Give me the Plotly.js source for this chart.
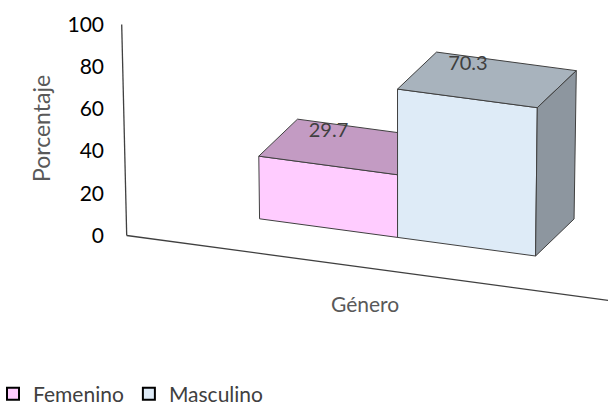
<!DOCTYPE html>
<html>
<head>
<meta charset="utf-8">
<script src="https://cdn.plot.ly/plotly-3.0.1.min.js"></script>
<style>
  html, body { margin: 0; padding: 0; background: #ffffff; }
  #chart { width: 608px; height: 405px; }
</style>
</head>
<body>
<div id="chart"></div>
<script>
// Survey share by gender (%)
const categories = ['Femenino', 'Masculino'];
const values = [29.7, 70.3];
const tickVals = [0, 20, 40, 60, 80, 100];
const yMax = 100;

// Face colours per series: front, top, right side
const frontColors = ['#FFCCFF', '#DEEBF7'];
const topColors = ['#C39BC3', '#A8B3BD'];
const sideColors = ['#A77FA7', '#8D969F'];
const edgeColor = '#404040';

// ---- simple oblique projection of the 3D box scene ----
const W_PX = 608, H_PX = 405;
const LEFT = 105;                       // left margin reserved for tick labels
const PX_PER_UNIT = 2.11;               // vertical pixels per percentage point
const ORIGIN = { x: 126.7, y: 235.5 };  // wall / floor corner
const U_STEP = { x: 138, y: 18.6 };     // one category along the floor
const W_STEP = { x: 38.5, y: -37 };     // one unit of depth
const BAR_START = 0.734;                // first bar offset along the floor
const DEPTH_GAP = 0.82;                 // bars sit this far behind the floor edge
const LEAN = 1.83e-4, LEAN_CX = 400;    // slight perspective lean of verticals

// (u: along categories, w: depth, v: value) -> [x pixel, y in value units]
function project(u, w, v) {
  let px = ORIGIN.x + u * U_STEP.x + w * W_STEP.x;
  const py = ORIGIN.y + u * U_STEP.y + w * W_STEP.y - v * PX_PER_UNIT;
  px += (px - LEAN_CX) * v * LEAN;
  return [px, (ORIGIN.y - py) / PX_PER_UNIT];
}

function polygon(points, fill) {
  const xs = points.map(p => p[0]);
  const ys = points.map(p => p[1]);
  xs.push(xs[0]); ys.push(ys[0]);
  return {
    type: 'scatter', mode: 'lines', x: xs, y: ys,
    fill: 'toself', fillcolor: fill,
    line: { color: edgeColor, width: 1 },
    hoverinfo: 'skip', showlegend: false
  };
}

const traces = [];

// floor front edge (category axis) and the value axis on the wall
const floorEnd = (W_PX + 20 - ORIGIN.x) / U_STEP.x;
const f0 = project(0, 0, 0), f1 = project(floorEnd, 0, 0);
traces.push({ type: 'scatter', mode: 'lines', x: [f0[0], f1[0]], y: [f0[1], f1[1]],
  line: { color: '#404040', width: 1.3 }, hoverinfo: 'skip', showlegend: false });
const a0 = project(0, 0, 0), a1 = project(0, 0, yMax);
traces.push({ type: 'scatter', mode: 'lines', x: [a0[0], a1[0]], y: [a0[1], a1[1]],
  line: { color: '#404040', width: 1.3 }, hoverinfo: 'skip', showlegend: false });

// boxes, drawn left to right so later boxes overlap earlier ones
const labelX = [], labelY = [], labelText = [];
values.forEach((val, i) => {
  const u0 = BAR_START + i, u1 = u0 + 1;
  const w0 = DEPTH_GAP, w1 = DEPTH_GAP + 1;
  // front
  traces.push(polygon([project(u0, w0, 0), project(u1, w0, 0), project(u1, w0, val), project(u0, w0, val)], frontColors[i]));
  // top
  traces.push(polygon([project(u0, w0, val), project(u1, w0, val), project(u1, w1, val), project(u0, w1, val)], topColors[i]));
  // right side
  traces.push(polygon([project(u1, w0, 0), project(u1, w1, 0), project(u1, w1, val), project(u1, w0, val)], sideColors[i]));
  // value label just above the middle of the top face
  const c = project(u0 + 0.5, w0 + 0.5, val);
  labelX.push(c[0] - 19);
  labelY.push(c[1] + 15 / PX_PER_UNIT);
  labelText.push(val.toFixed(1));
});

traces.push({
  type: 'scatter', mode: 'text', x: labelX, y: labelY, text: labelText,
  textposition: 'middle center',
  textfont: { family: 'Lato, sans-serif', size: 20, color: '#404040' },
  hoverinfo: 'skip', showlegend: false, cliponaxis: false
});

// legend entries
categories.forEach((name, i) => {
  traces.push({
    type: 'scatter', mode: 'markers', x: [null], y: [null], name: name,
    marker: { symbol: 'square', size: 12, color: frontColors[i], line: { color: '#000000', width: 2 } }
  });
});

const plotW = W_PX - LEFT;
const paperX = px => (px - LEFT) / plotW;
const paperY = py => (H_PX - py) / H_PX;

const layout = {
  width: W_PX, height: H_PX,
  margin: { l: LEFT, r: 0, t: 0, b: 0, autoexpand: false },
  paper_bgcolor: '#ffffff', plot_bgcolor: '#ffffff',
  showlegend: true,
  xaxis: { range: [LEFT, W_PX], visible: false, fixedrange: true },
  yaxis: {
    range: [(ORIGIN.y - H_PX) / PX_PER_UNIT, ORIGIN.y / PX_PER_UNIT],
    tickvals: tickVals, ticktext: tickVals.map(String),
    showgrid: false, zeroline: false, showline: false, ticks: '',
    tickfont: { family: 'Lato, sans-serif', size: 21, color: '#000000' },
    fixedrange: true
  },
  legend: {
    orientation: 'h', xref: 'paper', yref: 'paper',
    x: paperX(-7), y: paperY(394), xanchor: 'left', yanchor: 'middle',
    font: { family: 'Lato, sans-serif', size: 21, color: '#404040' },
    itemclick: false, itemdoubleclick: false, tracegroupgap: 0
  },
  annotations: [
    { text: 'Porcentaje', xref: 'paper', yref: 'paper', x: paperX(41), y: paperY(129),
      xanchor: 'center', yanchor: 'middle', textangle: -90, showarrow: false,
      font: { family: 'Lato, sans-serif', size: 23, color: '#595959' } },
    { text: 'Género', xref: 'paper', yref: 'paper', x: paperX(365), y: paperY(303),
      xanchor: 'center', yanchor: 'middle', showarrow: false,
      font: { family: 'Lato, sans-serif', size: 21, color: '#595959' } }
  ]
};

Plotly.newPlot('chart', traces, layout, { displayModeBar: false, staticPlot: true });
</script>
</body>
</html>
